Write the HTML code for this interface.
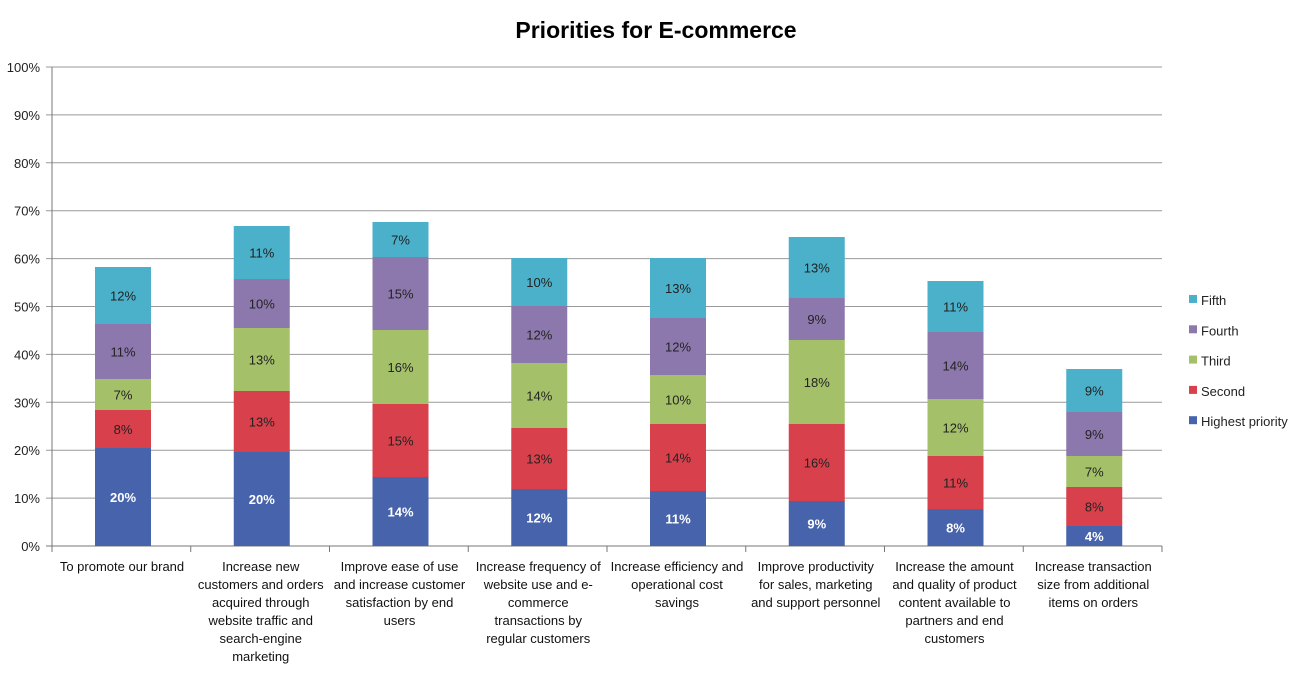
<!DOCTYPE html>
<html><head><meta charset="utf-8"><style>
body{margin:0;background:#fff;width:1305px;height:670px;overflow:hidden}
svg{font-family:"Liberation Sans",sans-serif}
</style></head><body>
<svg id="c" width="1305" height="670" xmlns="http://www.w3.org/2000/svg">
<text x="656" y="38" text-anchor="middle" font-size="23" font-weight="bold" fill="#000">Priorities for E-commerce</text>
</svg>
<script>
const s=document.getElementById('c');const NS='http://www.w3.org/2000/svg';
function el(t,a,txt){const e=document.createElementNS(NS,t);for(const k in a)e.setAttribute(k,a[k]);if(txt!=null)e.textContent=txt;s.appendChild(e);return e;}
const y0=546,ppp=4.79;
for(let i=0;i<=10;i++){const y=y0-i*10*ppp;el('line',{x1:46,x2:1162,y1:y,y2:y,stroke:i==0?'#777':'#999','stroke-width':1});
el('text',{x:40,y:y+5,'text-anchor':'end','font-size':13,fill:'#222'},(i*10)+'%');}
el('line',{x1:52,x2:52,y1:67,y2:546,stroke:'#777'});
for(let i=0;i<=8;i++){const x=52+i*138.75;el('line',{x1:x,x2:x,y1:546,y2:552,stroke:'#777'});}
const cols=['#4763ab','#d8414c','#a4c16a','#8d78ad','#4bb0c9'];
const B=[[546,448,410,379,324,267],[546,452,391,328,279,226],[546,477,404,330,257,222],[546,489,428,363,306,258],[546,491,424,375,318,258],[546,501,424,340,298,237],[546,509,456,399,332,281],[546,526,487,456,412,369]];
const L=[['20%','8%','7%','11%','12%'],['20%','13%','13%','10%','11%'],['14%','15%','16%','15%','7%'],['12%','13%','14%','12%','10%'],['11%','14%','10%','12%','13%'],['9%','16%','18%','9%','13%'],['8%','11%','12%','14%','11%'],['4%','8%','7%','9%','9%']];
const cats=[['To promote our brand'],['Increase new','customers and orders','acquired through','website traffic and','search-engine','marketing'],['Improve ease of use','and increase customer','satisfaction by end','users'],['Increase frequency of','website use and e-','commerce','transactions by','regular customers'],['Increase efficiency and','operational cost','savings'],['Improve productivity','for sales, marketing','and support personnel'],['Increase the amount','and quality of product','content available to','partners and end','customers'],['Increase transaction','size from additional','items on orders']];
B.forEach((b,i)=>{const cx=52+i*138.75+69.4+1.6;for(let j=0;j<5;j++){el('rect',{x:cx-28,y:b[j+1],width:56,height:b[j]-b[j+1],fill:cols[j]});
el('text',{x:cx,y:(b[j]+b[j+1])/2+5,'text-anchor':'middle','font-size':13,fill:j==0?'#fff':'#222','font-weight':j==0?'bold':'normal'},L[i][j]);}
cats[i].forEach((t,k)=>el('text',{x:cx-1,y:571+k*18,'text-anchor':'middle','font-size':13,fill:'#111'},t));});
const ln=['Fifth','Fourth','Third','Second','Highest priority'];
ln.forEach((t,k)=>{const y=300+k*30.3;el('rect',{x:1189,y:y-5,width:8,height:8,fill:cols[4-k]});el('text',{x:1201,y:y+5,'font-size':13,fill:'#222'},t);});
</script>
</body></html>
